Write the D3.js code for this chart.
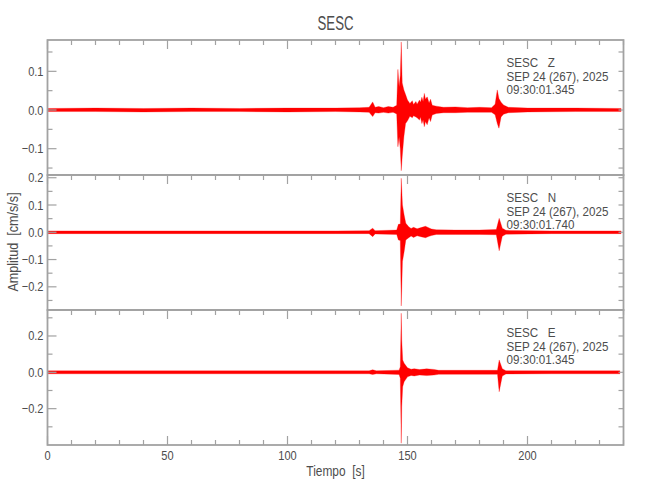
<!DOCTYPE html>
<html>
<head>
<meta charset="utf-8">
<script src="https://cdn.jsdelivr.net/npm/d3@7"></script>
<style>
	body { margin: 0; background: #fff; }
	text { font-family: "Liberation Sans", Arimo, sans-serif; fill: #4d4d4d; }
</style>
</head>
<body>
<div id="chart"></div>
<script>
// Envelope of each trace (time in s, upper / lower amplitude in cm/s/s)
var zTime = [0, 20, 40, 60, 80, 100, 120, 130, 134, 135.5, 136.5, 138, 140, 142, 144, 145.5, 146, 146.5, 147, 147.4, 147.8, 148.5, 149.2, 150, 151, 152, 152.5, 153.5, 154, 155, 155.4, 156, 156.5, 157, 157.5, 158.2, 159, 159.6, 160.3, 162, 165, 170, 175, 180, 185, 186.5, 187.4, 188.1, 189, 190, 192, 200, 220, 239]
var zHigh = [0.004, 0.005, 0.004, 0.005, 0.004, 0.005, 0.005, 0.006, 0.007, 0.021, 0.007, 0.009, 0.006, 0.009, 0.007, 0.012, 0.105, 0.06, 0.09, 0.176, 0.07, 0.052, 0.04, 0.026, 0.017, 0.024, 0.014, 0.022, 0.015, 0.026, 0.02, 0.033, 0.022, 0.043, 0.028, 0.034, 0.018, 0.028, 0.012, 0.01, 0.007, 0.008, 0.006, 0.007, 0.006, 0.015, 0.052, 0.03, 0.02, 0.013, 0.007, 0.005, 0.005, 0.004]
var zLow = [-0.004, -0.004, -0.005, -0.004, -0.004, -0.005, -0.004, -0.005, -0.006, -0.017, -0.007, -0.008, -0.006, -0.008, -0.006, -0.01, -0.095, -0.07, -0.1, -0.157, -0.12, -0.069, -0.035, -0.028, -0.016, -0.02, -0.015, -0.018, -0.02, -0.026, -0.018, -0.035, -0.025, -0.043, -0.03, -0.038, -0.02, -0.03, -0.013, -0.009, -0.007, -0.007, -0.006, -0.006, -0.006, -0.012, -0.035, -0.047, -0.018, -0.011, -0.007, -0.005, -0.004, -0.004]

var nTime = [0, 30, 60, 90, 120, 134, 135.5, 136.5, 145.5, 146.2, 147, 147.4, 147.9, 148.6, 149.3, 150.5, 151.5, 152.5, 154, 156, 157.5, 159, 160, 162, 170, 180, 187, 188.2, 189.5, 191, 210, 239]
var nHigh = [0.005, 0.005, 0.005, 0.005, 0.005, 0.006, 0.015, 0.006, 0.008, 0.029, 0.03, 0.198, 0.1, 0.063, 0.033, 0.02, 0.014, 0.018, 0.013, 0.018, 0.022, 0.016, 0.012, 0.009, 0.008, 0.008, 0.01, 0.051, 0.015, 0.007, 0.005, 0.005]
var nLow = [-0.005, -0.005, -0.005, -0.005, -0.005, -0.005, -0.016, -0.006, -0.008, -0.028, -0.03, -0.27, -0.107, -0.071, -0.028, -0.02, -0.014, -0.019, -0.013, -0.017, -0.02, -0.015, -0.012, -0.008, -0.008, -0.008, -0.009, -0.068, -0.015, -0.007, -0.005, -0.005]

var eTime = [0, 30, 60, 90, 120, 134, 135.5, 137, 146.5, 147, 147.4, 147.6, 148, 148.6, 150, 151.5, 152.8, 155, 158, 161, 163, 187.5, 188.2, 189.5, 191, 210, 238.5]
var eHigh = [0.008, 0.008, 0.008, 0.008, 0.008, 0.008, 0.014, 0.008, 0.012, 0.031, 0.325, 0.178, 0.068, 0.05, 0.025, 0.017, 0.02, 0.015, 0.019, 0.016, 0.011, 0.011, 0.068, 0.02, 0.009, 0.008, 0.008]
var eLow = [-0.008, -0.008, -0.008, -0.008, -0.008, -0.008, -0.012, -0.008, -0.012, -0.033, -0.39, -0.19, -0.079, -0.052, -0.025, -0.017, -0.02, -0.015, -0.018, -0.015, -0.011, -0.011, -0.107, -0.02, -0.009, -0.008, -0.008]

var components = ["Z", "N", "E"]
var startTimes = ["09:30:01.345", "09:30:01.740", "09:30:01.345"]
var yDomains = [[-0.168, 0.181], [-0.285, 0.21], [-0.40, 0.343]]
var yMajor = [[-0.1, 0, 0.1], [-0.2, -0.1, 0, 0.1, 0.2], [-0.2, 0, 0.2]]
var yMinor = [[-0.15, -0.05, 0.05, 0.15], [-0.25, -0.15, -0.05, 0.05, 0.15], [-0.3, -0.1, 0.1, 0.3]]
var xMajor = [0, 50, 100, 150, 200]
var xMinor = [10, 20, 30, 40, 60, 70, 80, 90, 110, 120, 130, 140, 160, 170, 180, 190, 210, 220, 230, 240]

var w = 650
var h = 500
var left = 47.5, right = 623.5
var panelTops = [40, 175, 310]
var panelH = 135
var axisColor = "#a2a2a2"
var traceColor = "#ff0000"

var svg = d3.select("#chart").append("svg")
	.attr("width", w)
	.attr("height", h)

var x = d3.scaleLinear().domain([0, 240]).range([left, right])
var fmt = d3.format(".1f")

// narrow text, closer to the thin plotting font of the original
function label(parent, tx, ty, str, size, anchor, sq, rot) {
	return parent.append("text")
		.attr("transform", "translate(" + tx + "," + ty + ")" + (rot ? " rotate(" + rot + ")" : "") + " scale(" + sq + ",1)")
		.attr("text-anchor", anchor)
		.style("font-size", size + "px")
		.style("white-space", "pre")
		.text(str)
}

var traces = [
	zTime.map((t, i) => ({t: t, hi: zHigh[i], lo: zLow[i]})),
	nTime.map((t, i) => ({t: t, hi: nHigh[i], lo: nLow[i]})),
	eTime.map((t, i) => ({t: t, hi: eHigh[i], lo: eLow[i]}))
]

label(svg, (left + right) / 2, 30, "SESC", 20, "middle", 0.66)

traces.forEach((data, p) => {
	var top = panelTops[p]
	var bottom = top + panelH
	var y = d3.scaleLinear().domain(yDomains[p]).range([bottom, top])
	var g = svg.append("g")

	g.append("clipPath").attr("id", "clip" + p)
		.append("rect").attr("x", left).attr("y", top).attr("width", right - left).attr("height", panelH)

	// the trace
	var area = d3.area()
		.x(d => x(d.t))
		.y0(d => y(d.lo))
		.y1(d => y(d.hi))
	g.append("path")
		.datum(data)
		.attr("clip-path", "url(#clip" + p + ")")
		.attr("d", area)
		.attr("fill", traceColor)
		.attr("stroke", traceColor)
		.attr("stroke-width", 0.3)

	// frame
	g.append("rect")
		.attr("x", left).attr("y", top)
		.attr("width", right - left).attr("height", panelH)
		.attr("fill", "none")
		.attr("stroke", axisColor)
		.attr("stroke-width", 1.8)

	// y ticks, inward on both sides
	var yt = yMajor[p].map(v => ({v: v, len: 9})).concat(yMinor[p].map(v => ({v: v, len: 5})))
	g.selectAll(".yl").data(yt).enter().append("line")
		.attr("x1", left).attr("x2", d => left + d.len)
		.attr("y1", d => y(d.v)).attr("y2", d => y(d.v))
		.attr("stroke", axisColor).attr("stroke-width", 1.2)
	g.selectAll(".yr").data(yt).enter().append("line")
		.attr("x1", right).attr("x2", right - 5)
		.attr("y1", d => y(d.v)).attr("y2", d => y(d.v))
		.attr("stroke", axisColor).attr("stroke-width", 1.2)
	yMajor[p].forEach(v => label(g, left - 4, y(v) + 4.5, fmt(v), 13, "end", 0.85))

	// x ticks along the top of each panel
	var xt = xMajor.map(v => ({v: v, len: 9})).concat(xMinor.map(v => ({v: v, len: 5})))
	g.selectAll(".xt").data(xt).enter().append("line")
		.attr("x1", d => x(d.v)).attr("x2", d => x(d.v))
		.attr("y1", top).attr("y2", d => top + d.len)
		.attr("stroke", axisColor).attr("stroke-width", 1.2)

	if (p == 2) {
		g.selectAll(".xb").data(xt).enter().append("line")
			.attr("x1", d => x(d.v)).attr("x2", d => x(d.v))
			.attr("y1", bottom).attr("y2", d => bottom - d.len)
			.attr("stroke", axisColor).attr("stroke-width", 1.2)
		xMajor.forEach(v => label(g, x(v), bottom + 15, String(v), 13, "middle", 0.85))
	}

	// station info
	var info = ["SESC   " + components[p], "SEP 24 (267), 2025", startTimes[p]]
	info.forEach((s, i) => label(g, 506.5, top + 27 + i * 13.5, s, 12, "start", 0.97))
})

label(svg, (left + right) / 2, 476, "Tiempo  [s]", 14, "middle", 0.85)
label(svg, 18, 242, "Amplitud  [cm/s/s]", 14, "middle", 0.9, -90)
</script>
</body>
</html>
